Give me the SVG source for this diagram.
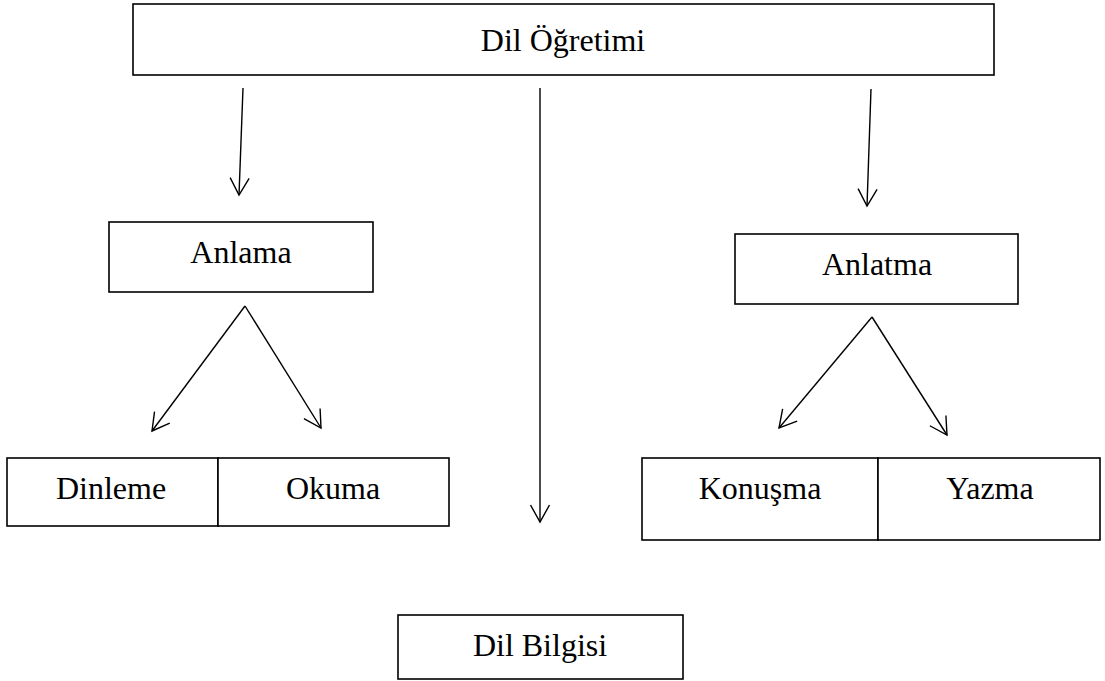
<svg xmlns="http://www.w3.org/2000/svg" width="1105" height="681" viewBox="0 0 1105 681">
<style>
.box{fill:#fff;stroke:#000;stroke-width:1.6}
.t{font-family:"Liberation Serif","Times New Roman",serif;font-size:32px;fill:#000;text-anchor:middle}
.c{fill:none;stroke:#000;stroke-width:1.4}
</style>
<defs>
<marker id="arr" markerUnits="userSpaceOnUse" markerWidth="40" markerHeight="40" viewBox="-20 -20 40 40" refX="0" refY="0" orient="auto">
<path d="M-17,-9.5 L0,0 L-17,9.5" fill="none" stroke="#000" stroke-width="1.4"/>
</marker>
</defs>
<rect width="1105" height="681" fill="#fff"/>
<g id="dil-ogretimi">
<rect class="box" x="133" y="4" width="861" height="71" stroke-width="2"/>
<text class="t" x="563" y="51">Dil Öğretimi</text>
</g>
<g id="anlama">
<rect class="box" x="109" y="222" width="264" height="70"/>
<text class="t" x="241" y="263">Anlama</text>
</g>
<g id="anlatma">
<rect class="box" x="735" y="234" width="283" height="70"/>
<text class="t" x="877" y="275">Anlatma</text>
</g>
<g id="dinleme">
<rect class="box" x="7" y="458" width="211" height="68"/>
<text class="t" x="111" y="499">Dinleme</text>
</g>
<g id="okuma">
<rect class="box" x="218" y="458" width="231" height="68"/>
<text class="t" x="333" y="499">Okuma</text>
</g>
<g id="konusma">
<rect class="box" x="642" y="458" width="236" height="82"/>
<text class="t" x="760" y="499">Konuşma</text>
</g>
<g id="yazma">
<rect class="box" x="878" y="458" width="222" height="82"/>
<text class="t" x="990" y="499">Yazma</text>
</g>
<g id="dil-bilgisi">
<rect class="box" x="398" y="615" width="285" height="64"/>
<text class="t" x="540" y="656">Dil Bilgisi</text>
</g>
<g id="connectors">
<line class="c" x1="243" y1="88" x2="239" y2="195" marker-end="url(#arr)"/>
<line class="c" x1="540" y1="88" x2="540" y2="522" marker-end="url(#arr)"/>
<line class="c" x1="871" y1="89" x2="867" y2="206" marker-end="url(#arr)"/>
<line class="c" x1="245" y1="306" x2="152" y2="431" marker-end="url(#arr)"/>
<line class="c" x1="245" y1="306" x2="321" y2="428" marker-end="url(#arr)"/>
<line class="c" x1="872" y1="317" x2="779" y2="428" marker-end="url(#arr)"/>
<line class="c" x1="872" y1="317" x2="947" y2="435" marker-end="url(#arr)"/>
</g>
</svg>
